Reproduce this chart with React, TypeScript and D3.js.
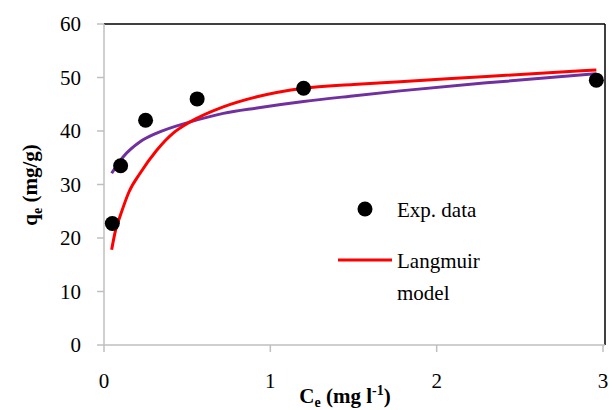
import React, { useEffect, useRef } from 'react';
import * as d3 from 'd3';

// experimental points
const expCe = [0.05, 0.1, 0.25, 0.56, 1.2, 2.96];
const expQe = [22.7, 33.5, 42, 46, 48, 49.5];

// Langmuir model curve (red)
const langCe = [0.046, 0.07, 0.096, 0.15, 0.217, 0.317, 0.416, 0.518, 0.717, 0.92, 1.2, 1.5, 1.78, 2.3, 2.96];
const langQe = [17.8, 21.5, 24, 28.6, 32.1, 36.4, 39.6, 41.7, 44.5, 46.4, 48, 48.7, 49.2, 50.2, 51.4];

// second fit (purple)
const fitCe = [0.046, 0.116, 0.217, 0.317, 0.518, 0.717, 0.92, 1.2, 1.48, 1.78, 2.3, 2.96];
const fitQe = [32.1, 35.2, 38, 39.6, 41.7, 43.3, 44.3, 45.5, 46.5, 47.5, 49, 50.7];

const xTicks = [0, 1, 2, 3];
const yTicks = [0, 10, 20, 30, 40, 50, 60];

export default function App() {
  const ref = useRef<SVGSVGElement>(null);

  useEffect(() => {
    const W = 613, H = 410;
    const left = 104, right = 603, top = 24, bottom = 345;
    const grey = '#bfbfbf';
    const font = 'Liberation Serif';
    const x = d3.scaleLinear().domain([0, 3]).range([left, right]);
    const y = d3.scaleLinear().domain([0, 60]).range([bottom, top]);

    const svg = d3.select(ref.current);
    svg.selectAll('*').remove();
    svg.append('rect').attr('width', W).attr('height', H).attr('fill', '#fff');

    // frame
    const frame = [
      [left, top, right + 2, top, '#000'],
      [right + 2, top, right + 2, bottom, '#000'],
      [left, top, left, bottom, grey],
      [left, bottom, right + 2, bottom, grey],
    ];
    frame.forEach(f => {
      svg.append('line')
        .attr('x1', f[0]).attr('y1', f[1]).attr('x2', f[2]).attr('y2', f[3])
        .attr('stroke', f[4] as string).attr('stroke-width', 1.5);
    });

    // y ticks
    const yg = svg.append('g');
    yg.selectAll('line').data(yTicks).enter().append('line')
      .attr('x1', left - 7).attr('x2', left)
      .attr('y1', d => y(d)).attr('y2', d => y(d))
      .attr('stroke', grey).attr('stroke-width', 1.5);
    yg.selectAll('text').data(yTicks).enter().append('text')
      .attr('x', 81).attr('y', d => y(d) + 7)
      .attr('text-anchor', 'end')
      .style('font-family', font).style('font-size', '21px')
      .text(d => d);

    // x ticks
    const xg = svg.append('g');
    xg.selectAll('line').data(xTicks).enter().append('line')
      .attr('x1', d => x(d)).attr('x2', d => x(d))
      .attr('y1', bottom).attr('y2', bottom + 7)
      .attr('stroke', grey).attr('stroke-width', 1.5);
    xg.selectAll('text').data(xTicks).enter().append('text')
      .attr('x', d => x(d)).attr('y', 388)
      .attr('text-anchor', 'middle')
      .style('font-family', font).style('font-size', '21px')
      .text(d => d);

    // curves
    const fitLine = d3.line<number>().curve(d3.curveMonotoneX)
      .x((d, i) => x(fitCe[i])).y(d => y(d));
    svg.append('path').attr('d', fitLine(fitQe) || '')
      .attr('fill', 'none').attr('stroke', '#7030a0').attr('stroke-width', 3);
    const langLine = d3.line<number>().curve(d3.curveMonotoneX)
      .x((d, i) => x(langCe[i])).y(d => y(d));
    svg.append('path').attr('d', langLine(langQe) || '')
      .attr('fill', 'none').attr('stroke', '#ff0000').attr('stroke-width', 3);

    // points
    svg.selectAll('circle.pt').data(expQe).enter().append('circle')
      .attr('class', 'pt')
      .attr('cx', (d, i) => x(expCe[i])).attr('cy', d => y(d))
      .attr('r', 7.5).attr('fill', '#000');

    // axis titles
    const yt = svg.append('text')
      .attr('transform', 'translate(37,185) rotate(-90)')
      .attr('text-anchor', 'middle')
      .style('font-family', font).style('font-size', '21px').style('font-weight', 'bold');
    yt.append('tspan').text('q');
    yt.append('tspan').attr('dy', 5).style('font-size', '14px').text('e');
    yt.append('tspan').attr('dy', -5).text(' (mg/g)');

    const xt = svg.append('text')
      .attr('x', 345).attr('y', 403)
      .attr('text-anchor', 'middle')
      .style('font-family', font).style('font-size', '21px').style('font-weight', 'bold');
    xt.append('tspan').text('C');
    xt.append('tspan').attr('dy', 4).style('font-size', '14px').text('e');
    xt.append('tspan').attr('dy', -4).text(' (mg l');
    xt.append('tspan').attr('dy', -8).style('font-size', '14px').text('-1');
    xt.append('tspan').attr('dy', 8).text(')');

    // legend
    svg.append('circle').attr('cx', 365).attr('cy', 209).attr('r', 7.5).attr('fill', '#000');
    svg.append('line').attr('x1', 338).attr('x2', 392).attr('y1', 260).attr('y2', 260)
      .attr('stroke', '#ff0000').attr('stroke-width', 3);
    const legendText = [['Exp. data', 217], ['Langmuir', 268], ['model', 300]];
    legendText.forEach(l => {
      svg.append('text').attr('x', 397).attr('y', l[1])
        .style('font-family', font).style('font-size', '21px')
        .text(l[0] as string);
    });
  }, []);

  return (
    <svg ref={ref} width={613} height={410} style={{ position: 'absolute', left: 0, top: 0 }}></svg>
  );
}
